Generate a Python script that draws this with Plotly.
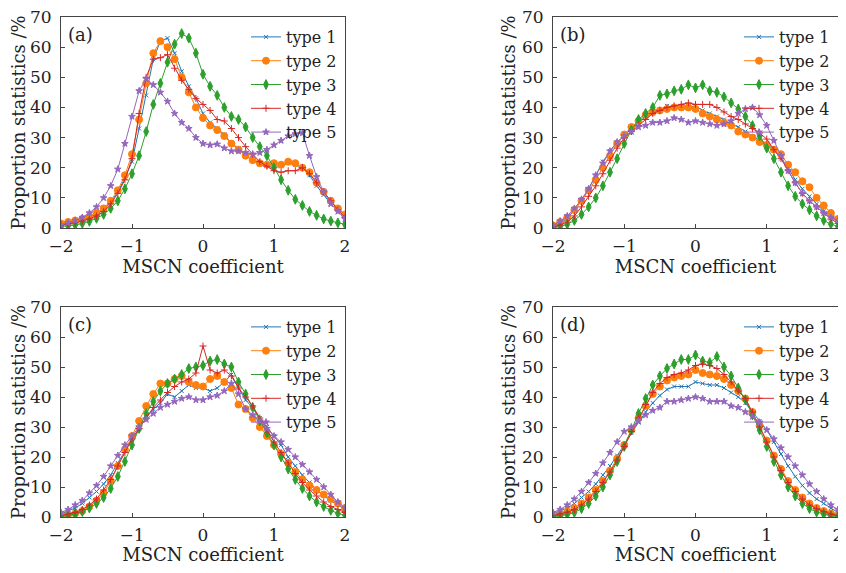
import plotly.graph_objects as go

# MSCN coefficient grid
x = [-2.0, -1.9, -1.8, -1.7, -1.6, -1.5, -1.4, -1.3, -1.2, -1.1, -1.0,
     -0.9, -0.8, -0.7, -0.6, -0.5, -0.4, -0.3, -0.2, -0.1, 0.0,
     0.1, 0.2, 0.3, 0.4, 0.5, 0.6, 0.7, 0.8, 0.9, 1.0,
     1.1, 1.2, 1.3, 1.4, 1.5, 1.6, 1.7, 1.8, 1.9, 2.0]

names = ["type 1", "type 2", "type 3", "type 4", "type 5"]
panels = ["(a)", "(b)", "(c)", "(d)"]

# panel (a)
a1 = [1.0, 1.5, 2.0, 2.8, 3.5, 4.5, 6.0, 8.5, 12, 16.5, 22, 33, 44, 56, 62, 63, 58, 52, 47, 43, 38,
      35, 33, 31, 28, 26.5, 24, 22.5, 21, 20.5, 20, 20.5, 21.5, 21, 20, 17.5, 14, 11, 8, 6, 4.5]
a2 = [1.5, 2, 2.5, 3, 3.8, 5, 6.5, 9, 12.5, 17.5, 24.5, 36, 48, 58, 62, 60, 56, 50, 45, 40, 36.5,
      34, 32.5, 30.5, 28, 26, 24, 22.5, 21.5, 21, 21.5, 21, 22, 21.5, 20, 18.5, 15, 12, 9, 6.5, 4.5]
a3 = [0.5, 0.7, 1.0, 1.5, 2.2, 3.2, 4.5, 6.5, 9, 13, 18, 24, 32, 41, 48, 55, 61, 64.5, 63, 58, 51,
      47, 44, 40, 37, 36, 33.5, 30, 27, 24, 20, 16, 12.5, 9.5, 7.5, 5.5, 4.2, 3, 2.3, 1.7, 1.2]
a4 = [1, 1.3, 1.7, 2.3, 3, 4, 5.5, 8, 11.5, 16, 23, 38, 50, 56, 56.5, 57.5, 53, 49, 46, 43, 41,
      39, 36, 35.5, 33, 30, 27, 24.5, 22, 20.5, 19, 18.5, 19, 19, 20, 18, 15, 12, 9, 6, 3.5]
a5 = [1, 1.7, 2.5, 3.5, 5, 7, 10, 14, 19.5, 28, 37, 45.5, 49.5, 47.5, 45, 42, 38, 35, 33, 30, 28,
      27.5, 27.8, 26.5, 25.5, 25.5, 25, 24.5, 25, 26, 27.5, 29, 30.5, 31.2, 31.5, 24, 17, 12, 8, 5.5, 3]

# panel (b)
b1 = [0.5, 1.5, 3, 6, 9, 13, 17.5, 22, 25.5, 28.5, 30.5, 33, 35, 37, 38, 39, 40.5, 40, 39.5, 40, 40.5,
      39, 38, 37, 36, 34.5, 33.5, 32, 30.5, 29, 28, 26, 23, 20, 16, 13, 10.5, 8, 5.5, 4, 2.5]
b2 = [0.8, 2, 3.5, 6, 9, 12.5, 16, 20, 24, 28, 31, 33.5, 35.5, 37.5, 38.5, 39, 39.5, 40, 40, 40, 39.5,
      38, 37, 36, 35, 34, 32, 31, 30, 28.5, 27.5, 26, 24.5, 21, 18.5, 15.5, 13.5, 10, 7.5, 5, 3]
b3 = [0.3, 0.5, 1.2, 2.5, 4.5, 7, 10, 14, 18.5, 23, 28, 32.5, 36, 38, 40, 44, 44.5, 45.5, 46, 47.5, 46.5,
      47.5, 45.5, 45, 43.5, 41.5, 39.5, 37, 34, 30.5, 26.5, 23, 18.5, 14, 10.5, 8, 6, 4, 2.5, 1.3, 0.5]
b4 = [0.3, 1, 2, 4, 7, 10.5, 14, 18, 22.5, 26.5, 30, 32, 34, 36, 38, 39, 40, 40.5, 41, 41.5, 41,
      41, 41, 40, 38.5, 37, 36, 34.5, 33, 31.5, 29.5, 26, 23, 19, 15, 11.5, 9, 7, 5, 3, 1.5]
b5 = [1, 2.3, 4, 6.5, 9.5, 13, 17.5, 21.5, 25.5, 28.5, 30.5, 32, 33.5, 34, 35, 35, 35.5, 36.5, 36, 35, 35.5,
      35, 34.5, 34, 34.5, 35.5, 38, 39.5, 40, 37.5, 34, 29, 24, 19, 15, 11.5, 9, 7, 5, 3.5, 2.5]

# panel (c)
c1 = [1, 2, 3, 4.5, 6.5, 8.5, 11, 14, 18, 22, 26, 29.5, 33, 36, 38, 41, 40, 42, 44, 43, 43,
      42, 43, 45, 47.5, 43, 39, 36.5, 33, 30, 27, 24, 20, 17, 14, 11.5, 9, 7, 5.5, 4, 2.5]
c2 = [0.5, 0.8, 1.2, 2, 3.5, 5.5, 8, 12, 17, 22.5, 27, 32, 37, 41, 44.5, 44.5, 46, 47, 45, 44, 43.5,
      46, 47, 45, 43, 37.5, 36, 33, 30, 27, 24, 21, 18, 15, 12.5, 10.5, 9, 7.5, 6, 4.5, 3]
c3 = [0.3, 0.5, 1, 1.8, 3, 4.5, 6.5, 9.5, 13.5, 18.5, 24, 29.5, 34.5, 38.5, 42, 44.5, 46, 47.5, 49.5, 50, 50.5,
      52, 52.5, 51, 50, 45, 41, 36.5, 32, 28, 24, 20, 16, 12.5, 9.5, 7, 5, 3.5, 2.2, 1.2, 0.6]
c4 = [0.5, 1, 1.5, 2.5, 4, 6, 9, 12.5, 17, 21.5, 26, 29.5, 33, 36.5, 39, 41.5, 43.5, 45, 46, 48, 57,
      49, 48, 49, 47, 43, 40, 37, 33, 29, 25, 21.5, 18, 14.5, 11.5, 9, 7, 5, 3.5, 2.5, 1.5]
c5 = [1.5, 2.5, 4, 5.5, 8, 10.5, 13.5, 17, 20.5, 24, 27, 30, 32.5, 34.5, 36.5, 37.5, 38.5, 39.5, 40, 39, 39,
      40, 40.5, 42, 44.5, 41, 36, 34, 32, 29.5, 27, 25, 22.5, 20, 17.5, 15, 12.5, 10, 7.5, 5, 3]

# panel (d)
d1 = [1, 2, 3, 4.5, 6.5, 8.5, 11, 14, 17, 20.5, 24, 28, 31.5, 35, 38, 40.5, 42.5, 43.5, 43.5, 43.5, 45,
      44.5, 44, 44, 43, 41.5, 40, 38, 35, 32, 29, 25, 21, 17, 13.5, 10.5, 8, 6, 4.5, 3, 1.5]
d2 = [0.5, 1, 1.8, 3, 4.5, 6.5, 9, 12, 15.5, 19.5, 24, 29, 33, 37, 41, 43.5, 45.5, 46.5, 47, 47.5, 49,
      48, 47.5, 47, 46, 44, 42, 39.5, 35, 30.5, 25.5, 20.5, 16, 12, 9, 6.5, 4.5, 3, 2, 1.2, 0.6]
d3 = [0.2, 0.4, 0.8, 1.5, 2.8, 4.5, 7, 10, 14, 18.5, 23.5, 29, 34.5, 39.5, 44, 47, 49.5, 51, 52.5, 52.5, 54,
      52, 51.5, 53.5, 50, 47, 43, 39, 34, 29, 23.5, 18.5, 14, 10, 7, 4.5, 2.8, 1.6, 0.9, 0.4, 0.2]
d4 = [0.5, 1, 1.6, 2.5, 4, 6, 8.5, 11.5, 15, 19, 23.5, 28.5, 33, 37.5, 41.5, 44.5, 46.5, 47.5, 48, 49, 50.5,
      51, 50.5, 49.5, 47.5, 45, 42, 39.5, 35, 30, 25, 20, 15.5, 11.5, 8.5, 6, 4, 2.8, 1.8, 1, 0.5]
d5 = [1.5, 2.5, 4, 6, 8.5, 11.5, 14.5, 18, 21.5, 25, 28.5, 30, 32, 34, 35.5, 36.5, 38.5, 38.5, 39, 39.5, 40,
      39.5, 38.5, 38.5, 38.5, 37, 36.5, 35, 33.5, 31.5, 29, 26, 23, 20, 17, 14, 11, 8.5, 6, 4, 2.5]

data = [[a1, a2, a3, a4, a5], [b1, b2, b3, b4, b5], [c1, c2, c3, c4, c5], [d1, d2, d3, d4, d5]]

colors = ["#1f77b4", "#ff7f0e", "#2ca02c", "#d62728", "#9467bd"]
symbols = ["x-thin", "circle", "diamond-tall", "cross-thin", "star"]
msizes = [4, 7, 7, 5, 5]

# the page body keeps its default 8px margin on every side, so the figure
# is drawn smaller and shifted so nothing scrolls or gets clipped
OFF = 8
W, H = 846 - OFF, 573 - 2 * OFF
# plot areas in window pixels: left, right, top, bottom
boxes = [(61, 345, 17, 228), (553, 838, 17, 228), (61, 345, 307, 517), (553, 838, 307, 517)]

FONT = "DejaVu Serif"
TXT = "#222"
fig = go.Figure()
layout = {}
for k in range(4):
    l, r, t, b = [v - OFF for v in boxes[k]]
    sfx = "" if k == 0 else str(k + 1)
    legname = "legend" + sfx
    for i in range(5):
        fig.add_trace(go.Scatter(
            x=x, y=data[k][i], mode="lines+markers", name=names[i],
            xaxis="x" + sfx, yaxis="y" + sfx, legend=legname,
            line=dict(color=colors[i], width=1),
            marker=dict(symbol=symbols[i], size=msizes[i], color=colors[i],
                        line=dict(color=colors[i], width=1)),
        ))
    axstyle = dict(showline=True, linecolor="#444", linewidth=1, mirror=True,
                   ticks="inside", ticklen=4, tickcolor="#444", showgrid=False,
                   zeroline=False, automargin=False, ticklabeloverflow="allow",
                   tickfont=dict(family=FONT, size=17, color=TXT))
    layout["xaxis" + sfx] = dict(axstyle, domain=[l / W, r / W], range=[-2, 2],
                                 tickvals=[-2, -1, 0, 1, 2], anchor="y" + sfx,
                                 ticklabelstandoff=3,
                                 title=dict(text="MSCN coefficient", standoff=2,
                                            font=dict(family=FONT, size=18, color=TXT)))
    layout["yaxis" + sfx] = dict(axstyle, domain=[1 - b / H, 1 - t / H], range=[0, 70],
                                 tickvals=[0, 10, 20, 30, 40, 50, 60, 70], anchor="x" + sfx,
                                 ticklabelstandoff=5,
                                 title=dict(text="Proportion statistics /%", standoff=1,
                                            font=dict(family=FONT, size=18, color=TXT)))
    layout[legname] = dict(x=(r - 3) / W, y=1 - (t + 3) / H, xanchor="right", yanchor="top",
                           bgcolor="rgba(0,0,0,0)", borderwidth=0, tracegroupgap=0,
                           itemwidth=30, font=dict(family=FONT, size=16, color=TXT))
    fig.add_annotation(x=(l + 5) / W, y=1 - (t + 5) / H, xref="paper", yref="paper",
                       xanchor="left", yanchor="top", text=panels[k], showarrow=False,
                       font=dict(family=FONT, size=18, color=TXT))

fig.update_layout(template="none", width=W, height=H,
                  margin=dict(l=0, r=0, t=0, b=0, autoexpand=False),
                  plot_bgcolor="white", paper_bgcolor="white", **layout)

fig.write_html("out.html")
